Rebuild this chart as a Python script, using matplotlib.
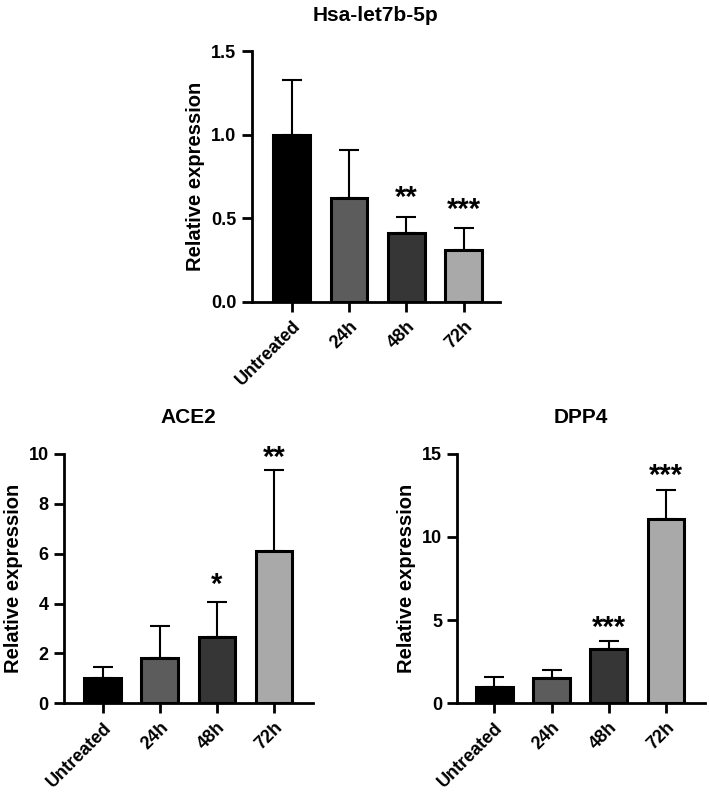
import matplotlib.pyplot as plt
import numpy as np

plt.rcParams['font.family'] = ['Liberation Sans', 'DejaVu Sans']
plt.rcParams['font.weight'] = 'bold'

groups = ['Untreated', '24h', '48h', '72h']
bar_colors = ['#000000', '#5c5c5c', '#363636', '#a9a9a9']

let7_mean = [1.0, 0.62, 0.41, 0.31]
let7_top = [1.33, 0.91, 0.51, 0.44]
let7_stars = ['', '', '**', '***']
let7_star_y = [0, 0, 0.62, 0.55]

ace2_mean = [1.0, 1.82, 2.65, 6.12]
ace2_top = [1.45, 3.1, 4.05, 9.35]
ace2_stars = ['', '', '*', '**']
ace2_star_y = [0, 0, 4.75, 9.85]

dpp4_mean = [1.0, 1.5, 3.25, 11.1]
dpp4_top = [1.6, 2.0, 3.75, 12.85]
dpp4_stars = ['', '', '***', '***']
dpp4_star_y = [0, 0, 4.55, 13.65]


def bar_panel(ax, title, mean, top, stars, star_y, ylim, yticks, xlim):
    x = np.arange(len(groups))
    mean = np.asarray(mean)
    err = np.asarray(top) - mean
    ax.errorbar(x, mean, yerr=[np.zeros_like(err), err], fmt='none',
                ecolor='black', elinewidth=1.5, capsize=7, capthick=1.5,
                zorder=1)
    ax.bar(x, mean, width=0.64, color=bar_colors, edgecolor='black',
           linewidth=2.2, zorder=2)
    for xi, s, sy in zip(x, stars, star_y):
        if s:
            ax.text(xi, sy, s, ha='center', va='center', fontsize=21,
                    fontweight='bold')
    ax.set_xlim(*xlim)
    ax.set_ylim(*ylim)
    ax.set_yticks(yticks)
    ax.set_xticks(x)
    ax.set_xticklabels(groups, rotation=45, ha='right',
                       rotation_mode='anchor')
    ax.set_title(title, fontsize=15, fontweight='bold', pad=22)
    ax.set_ylabel('Relative expression', fontsize=14.5, fontweight='bold')
    for side in ('top', 'right'):
        ax.spines[side].set_visible(False)
    for side in ('left', 'bottom'):
        ax.spines[side].set_linewidth(2.0)
        ax.spines[side].set_clip_on(False)
    ax.tick_params(axis='both', width=2.0, length=7.5, labelsize=13)
    ax.tick_params(axis='x', length=7.5, pad=4)
    for lab in ax.get_xticklabels() + ax.get_yticklabels():
        lab.set_fontweight('bold')


fig = plt.figure(figsize=(7.09, 7.92), dpi=100)
ax1 = fig.add_axes([0.355, 0.619, 0.35, 0.316])
ax2 = fig.add_axes([0.090, 0.112, 0.351, 0.315])
ax3 = fig.add_axes([0.645, 0.112, 0.349, 0.315])

bar_panel(ax1, 'Hsa-let7b-5p', let7_mean, let7_top, let7_stars, let7_star_y,
          (0, 1.5), [0.0, 0.5, 1.0, 1.5], (-0.70, 3.63))
ax1.set_yticklabels(['0.0', '0.5', '1.0', '1.5'])
bar_panel(ax2, 'ACE2', ace2_mean, ace2_top, ace2_stars, ace2_star_y,
          (0, 10), [0, 2, 4, 6, 8, 10], (-0.68, 3.68))
bar_panel(ax3, 'DPP4', dpp4_mean, dpp4_top, dpp4_stars, dpp4_star_y,
          (0, 15), [0, 5, 10, 15], (-0.65, 3.68))

fig.savefig('out.png', dpi=100)
